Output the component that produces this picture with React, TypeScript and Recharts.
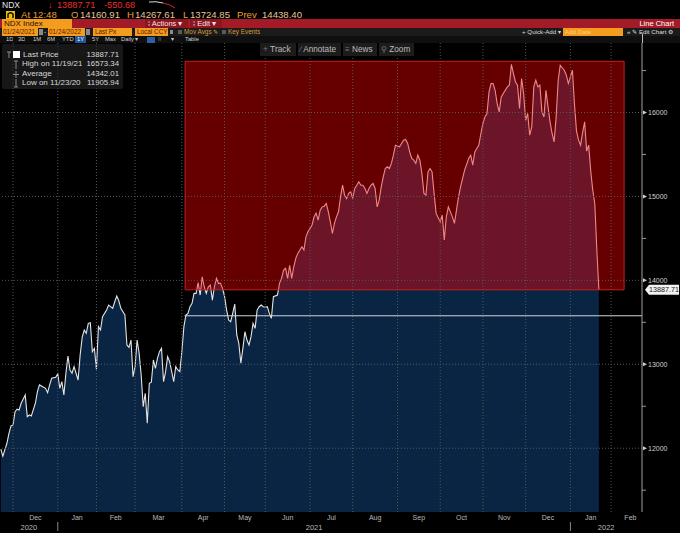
import React from "react";
import {
  AreaChart,
  Area,
  XAxis,
  YAxis,
  ReferenceArea,
  ReferenceLine,
} from "recharts";

// ---- data (trading-day index, 0 = 1 Dec 2020) ----
const tradingDay = [
  -6, -5, -3, -2, -1, 0, 1, 2, 3, 4, 6, 7, 8, 9, 11, 12, 13, 15, 16, 17, 18, 19, 21, 22, 23, 24, 25, 26, 27, 28,
  29, 30, 31, 32, 33, 34, 35, 36, 37, 38, 39, 40, 41, 42, 43, 44, 46, 47, 49, 50, 51, 52, 53, 55, 56, 57, 58, 59,
  60, 61, 62, 63, 64, 65, 66, 67, 68, 69, 70, 71, 72, 73, 74, 75, 76, 77, 78, 79, 80, 81, 82, 83, 84, 85, 86, 87,
  88, 89, 90, 91, 92, 93, 94, 95, 96, 97, 98, 99, 100, 101, 102, 103, 104, 105, 106, 107, 108, 109, 110, 111, 112,
  113, 114, 115, 116, 117, 118, 119, 120, 121, 122, 123, 124, 125, 126, 127, 128, 130, 131, 132, 133, 134, 135,
  136, 137, 138, 139, 140, 141, 142, 143, 144, 145, 146, 147, 148, 149, 150, 151, 152, 153, 154, 155, 156, 157,
  158, 159, 160, 161, 162, 163, 164, 165, 166, 167, 168, 169, 170, 171, 172, 173, 174, 175, 176, 177, 178, 179,
  180, 181, 182, 183, 184, 185, 186, 187, 188, 190, 191, 192, 193, 194, 195, 196, 197, 198, 199, 200, 201, 202,
  203, 204, 205, 206, 207, 208, 210, 211, 212, 213, 214, 216, 217, 218, 219, 220, 221, 222, 224, 225, 226, 227,
  228, 229, 230, 231, 232, 233, 234, 235, 236, 237, 238, 239, 240, 241, 243, 244, 245, 246, 247, 248, 249, 250,
  251, 252, 253, 254, 255, 256, 257, 258, 259, 260, 261, 262, 263, 264, 265, 266, 267, 268, 269, 271, 272, 273,
  274, 275, 276, 277, 278, 279, 280, 281, 282, 283, 284, 285, 286, 287, 288,
];
const ndxPrice = [
  11990, 11906, 12059, 12178, 12265, 12277, 12436, 12465, 12456, 12536, 12634, 12376, 12396, 12384, 12536, 12674,
  12754, 12726, 12714, 12662, 12754, 12833, 12845, 12885, 12714, 12793, 12634, 12893, 13099, 12932, 12893, 12972,
  12893, 12813, 13111, 13320, 13408, 13369, 13488, 13495, 13150, 13190, 12940, 13448, 13408, 13567, 13646, 13706,
  13666, 13745, 13813, 13757, 13666, 13587, 13230, 13202, 13289, 12852, 12972, 13289, 13131, 12873, 12495, 12655,
  12298, 12774, 12786, 13051, 12952, 13071, 13150, 13190, 12793, 12912, 13091, 13031, 12912, 12793, 12972, 12932,
  12912, 13150, 13448, 13587, 13607, 13686, 13726, 13845, 13845, 13972, 13825, 14043, 13924, 13845, 13924, 13944,
  13765, 13924, 14024, 13964, 13964, 13905, 13805, 13646, 13527, 13507, 13607, 13718, 13349, 13250, 13012, 13190,
  13388, 13289, 13230, 13329, 13488, 13428, 13646, 13686, 13706, 13686, 13680, 13686, 13607, 13547, 13805, 13825,
  13964, 14024, 14123, 14143, 14024, 14180, 14024, 14162, 14262, 14321, 14361, 14400, 14361, 14519, 14579, 14619,
  14660, 14757, 14800, 14718, 14837, 14876, 14884, 14916, 14817, 14698, 14559, 14678, 14757, 14817, 14995, 15134,
  15015, 14976, 15036, 15055, 14976, 15095, 15134, 15174, 15134, 15134, 15095, 15036, 15095, 15134, 15154, 15095,
  14876, 14956, 15114, 15233, 15333, 15353, 15333, 15393, 15492, 15611, 15591, 15631, 15670, 15678, 15631, 15531,
  15452, 15432, 15393, 15492, 15432, 15274, 15036, 15015, 15293, 15333, 15293, 15036, 14798, 14698, 14777, 14480,
  14757, 14876, 14757, 14678, 14837, 14995, 15114, 15214, 15313, 15452, 15492, 15373, 15531, 15571, 15611, 15750,
  15869, 15948, 15988, 16245, 16345, 16345, 16265, 16107, 16007, 16186, 16226, 16305, 16325, 16573.34, 16464, 16364,
  16325, 16048, 16405, 16226, 15908, 15988, 15730, 15829, 16305, 16385, 16305, 16325, 16007, 15948, 16265, 16067,
  15888, 15750, 15650, 15948, 16385, 16563, 16504, 16444, 16345, 16424, 16504, 16100, 15780, 15670, 15611, 15760,
  15888, 15540, 15611, 15300, 15075, 14910, 14361, 13887.71,
];

// month starts (trading-day index) and labels
const monthStarts = [0, 22, 41, 60, 83, 104, 124, 146, 167, 189, 210, 231, 252, 274, 294, 313];
const monthLabels = ["Dec", "Jan", "Feb", "Mar", "Apr", "May", "Jun", "Jul", "Aug", "Sep", "Oct", "Nov", "Dec", "Jan", "Feb"];
const yearStarts = [22, 274];
const yearLabels = ["2020", "2021", "2022"];

const priceTicks = [11500, 12000, 12500, 13000, 13500, 14000, 14500, 15000, 15500, 16000, 16500];
const gridPrices = [12000, 13000, 14000, 15000, 16000];

const xDomain: [number, number] = [-6.4, 309.2];
const yDomain: [number, number] = [11240, 16840];

const lastPrice = 13887.71;
const netChange = "-550.68";
const quoteTime = "12:48";
const openPx = "14160.91";
const highPx = "14267.61";
const lowPx = "13724.85";
const prevPx = "14438.40";
const statLabels = ["Last Price", "High on 11/19/21", "Average", "Low on 11/23/20"];
const statValues = ["13887.71", "16573.34", "14342.01", "11905.94"];

const zoneStart = 84.6;
const zoneEnd = 300.4;
const zoneTop = 16610;
const baseLevel = 13578;
const baseStart = 84.3;

const data = tradingDay.map((t, i) => ({ t, price: ndxPrice[i] }));
const monthTicks = monthStarts.filter((m) => m >= xDomain[0] && m <= xDomain[1]);
const monthMids = monthStarts.slice(0, -1).map((s, i) => (s + monthStarts[i + 1]) / 2);
const yearBounds = [xDomain[0], ...yearStarts, xDomain[1]];
const yearMids = yearLabels.map((_, i) => (yearBounds[i] + yearBounds[i + 1]) / 2);
const yearTicks = [...yearMids, ...yearStarts].sort((a, b) => a - b);

const FONT = "'Liberation Sans', Arial, Helvetica, sans-serif";
const ORANGE = "#f39c1e";
const AMBER = "#e9a033";
const NUM = "#e6c592";
const RED = "#ee2b2b";
const GRID = "#575757";

const MonthTick = (props: any) => {
  const { x, y, payload } = props;
  const i = monthMids.indexOf(payload.value);
  return (
    <text x={x} y={y + 7.5} textAnchor="middle" fill="#b9b9b9" fontSize={7} fontFamily={FONT}>
      {monthLabels[i]}
    </text>
  );
};

const YearTick = (props: any) => {
  const { x, y, payload } = props;
  const v = payload.value;
  if (yearStarts.includes(v)) {
    return <line x1={x} y1={y} x2={x} y2={y + 9} stroke="#8a8a8a" strokeWidth={1} />;
  }
  const i = yearMids.indexOf(v);
  return (
    <text x={x} y={y + 7.5} textAnchor="middle" fill="#b9b9b9" fontSize={7.5} fontFamily={FONT}>
      {yearLabels[i]}
    </text>
  );
};

const PriceTick = (props: any) => {
  const { x, y, payload } = props;
  const v = payload.value;
  if (v % 1000 !== 0) {
    return <line x1={x} y1={y} x2={x + 4} y2={y} stroke="#9a9a9a" strokeWidth={1} />;
  }
  return (
    <g>
      <path d={`M${x + 1},${y - 2} L${x + 5},${y} L${x + 1},${y + 2} Z`} fill="#cfcfcf" />
      <text x={x + 6} y={y} dy="0.35em" fill="#cfcfcf" fontSize={7} fontFamily={FONT}>
        {v}
      </text>
    </g>
  );
};

const LastPriceTag = (props: any) => {
  const vb = props.viewBox || {};
  const x = (vb.x ?? 0) + (vb.width ?? 0) + 3;
  const y = vb.y ?? 0;
  return (
    <g>
      <path d={`M${x},${y} L${x + 4},${y - 5} L${x + 34},${y - 5} L${x + 34},${y + 5} L${x + 4},${y + 5} Z`} fill="#f2f2f2" />
      <text x={x + 19} y={y} dy="0.35em" textAnchor="middle" fill="#111" fontSize={7.2} fontFamily={FONT}>
        {lastPrice.toFixed(2)}
      </text>
    </g>
  );
};

function Txt(p: any) {
  const { x, y, h, size, color, bg, w, align, pad, children, radius } = p;
  return (
    <div
      style={{
        position: "absolute",
        left: x,
        top: y,
        width: w,
        height: h,
        lineHeight: `${h}px`,
        fontSize: size,
        color,
        background: bg,
        textAlign: align ?? "left",
        whiteSpace: "nowrap",
        overflow: "hidden",
        paddingLeft: pad ?? 0,
        boxSizing: "border-box",
        borderRadius: radius ?? 0,
      }}
    >
      {children}
    </div>
  );
}

function Header() {
  return (
    <>
      {/* row 1 */}
      <Txt x={2} y={0} h={10} size={8.5} color="#e8e8e8">NDX</Txt>
      <Txt x={48} y={0} h={10} size={9} color={RED}>↓</Txt>
      <Txt x={57} y={0} h={10} size={9.2} color={RED}>{lastPrice.toFixed(2)}</Txt>
      <Txt x={104} y={0} h={10} size={9.2} color={RED}>{netChange}</Txt>
      <svg style={{ position: "absolute", left: 148, top: 0 }} width={30} height={10}>
        <path d="M1,2 Q8,1 15,3" stroke="#dddddd" fill="none" strokeWidth={1} />
        <path d="M15,3 Q22,4 27,8" stroke="#d22" fill="none" strokeWidth={1} />
      </svg>

      {/* row 2 */}
      <svg style={{ position: "absolute", left: 6, top: 11 }} width={9} height={8}>
        <rect x={0} y={0} width={9} height={8} fill="#f0c000" />
        <path d="M2,7 L2,3 Q4.5,0.5 7,3 L7,7" stroke="#000" fill="none" strokeWidth={1.4} />
      </svg>
      <Txt x={21} y={9} h={11} size={9.6} color={AMBER}>At {quoteTime}</Txt>
      <Txt x={71} y={9} h={11} size={9.6} color={AMBER}>O</Txt>
      <Txt x={80} y={9} h={11} size={9.6} color={NUM}>{openPx}</Txt>
      <Txt x={127} y={9} h={11} size={9.6} color={AMBER}>H</Txt>
      <Txt x={135} y={9} h={11} size={9.6} color={NUM}>{highPx}</Txt>
      <Txt x={183} y={9} h={11} size={9.6} color={AMBER}>L</Txt>
      <Txt x={190} y={9} h={11} size={9.6} color={NUM}>{lowPx}</Txt>
      <Txt x={237} y={9} h={11} size={9.6} color={AMBER}>Prev</Txt>
      <Txt x={262} y={9} h={11} size={9.6} color={NUM}>{prevPx}</Txt>

      {/* row 3 */}
      <div style={{ position: "absolute", left: 0, top: 19, width: 680, height: 9, background: "#a31b27" }} />
      <Txt x={2} y={19} w={70} h={9} size={8} color="#2a1200" bg={ORANGE} pad={2}>NDX Index</Txt>
      <Txt x={145} y={19} w={43} h={9} size={7.5} color="#f3e3e3" bg="#8d1520" pad={3}>⁞ Actions ▾</Txt>
      <Txt x={190} y={19} w={32} h={9} size={7.5} color="#f3e3e3" bg="#8d1520" pad={3}>⁞ Edit ▾</Txt>
      <Txt x={590} y={19} w={84} h={9} size={7.5} color="#ffffff" align="right">Line Chart</Txt>

      {/* row 4 */}
      <div style={{ position: "absolute", left: 0, top: 28, width: 680, height: 8, background: "#1b1b1b" }} />
      <Txt x={2} y={28} w={36} h={8} size={6.4} color="#5a1800" bg={ORANGE} pad={1}>01/24/2021</Txt>
      <div style={{ position: "absolute", left: 39, top: 29, width: 4, height: 6, background: "#8a8a8a" }} />
      <Txt x={44} y={28} h={8} size={6.4} color="#cccccc">-</Txt>
      <Txt x={48} y={28} w={37} h={8} size={6.4} color="#5a1800" bg={ORANGE} pad={1}>01/24/2022</Txt>
      <div style={{ position: "absolute", left: 86, top: 29, width: 4, height: 6, background: "#8a8a8a" }} />
      <Txt x={93} y={28} w={39} h={8} size={6.4} color="#5a1800" bg={ORANGE} pad={2}>Last Px</Txt>
      <Txt x={135} y={28} w={33} h={8} size={6.4} color="#5a1800" bg={ORANGE} pad={2}>Local CCY</Txt>
      <div style={{ position: "absolute", left: 170, top: 30, width: 3, height: 4, background: "#8a8a8a" }} />
      <div style={{ position: "absolute", left: 178, top: 30, width: 4, height: 4, background: "#5a5a5a" }} />
      <Txt x={184} y={28} h={8} size={6.4} color="#d99a3c">Mov Avgs ✎</Txt>
      <div style={{ position: "absolute", left: 222, top: 30, width: 4, height: 4, background: "#5a5a5a" }} />
      <Txt x={228} y={28} h={8} size={6.4} color="#d99a3c">Key Events</Txt>
      <Txt x={522} y={28} h={8} size={6.2} color="#dddddd">+ Quick-Add ▾</Txt>
      <Txt x={563} y={28} w={60} h={8} size={6.2} color="#ffd27a" bg={ORANGE} pad={2}>Add Data</Txt>
      <Txt x={627} y={28} h={8} size={6.2} color="#dddddd">« ✎ Edit Chart ⚙</Txt>

      {/* row 5 */}
      <div style={{ position: "absolute", left: 0, top: 36, width: 680, height: 7, background: "#0f0f0f" }} />
      <Txt x={6} y={36} h={7} size={5.8} color="#d0d0d0">1D</Txt>
      <Txt x={18} y={36} h={7} size={5.8} color="#d0d0d0">3D</Txt>
      <Txt x={33} y={36} h={7} size={5.8} color="#d0d0d0">1M</Txt>
      <Txt x={47} y={36} h={7} size={5.8} color="#d0d0d0">6M</Txt>
      <Txt x={62} y={36} h={7} size={5.8} color="#d0d0d0">YTD</Txt>
      <Txt x={75} y={36} w={11} h={7} size={5.8} color="#ffffff" bg="#24579a" align="center">1Y</Txt>
      <Txt x={92} y={36} h={7} size={5.8} color="#d0d0d0">5Y</Txt>
      <Txt x={105} y={36} h={7} size={5.8} color="#d0d0d0">Max</Txt>
      <Txt x={121} y={36} h={7} size={5.8} color="#d0d0d0">Daily ▾</Txt>
      <div style={{ position: "absolute", left: 147, top: 37, width: 8, height: 6, background: "#2b5fa8" }} />
      <Txt x={158} y={36} h={7} size={5.8} color="#d0d0d0">⁞⁞</Txt>
      <Txt x={171} y={36} h={7} size={5.8} color="#d0d0d0">▾</Txt>
      <Txt x={185} y={36} h={7} size={5.8} color="#d0d0d0">Table</Txt>
      <div style={{ position: "absolute", left: 642, top: 34, width: 1, height: 9, background: "#bdbdbd" }} />

      {/* stats box */}
      <div style={{ position: "absolute", left: 2, top: 44, width: 121, height: 45, background: "rgba(38,38,38,0.6)", borderRadius: 2 }} />
      <div style={{ position: "absolute", left: 13, top: 51, width: 7, height: 7, background: "#ffffff" }} />
      <svg style={{ position: "absolute", left: 6, top: 50 }} width={18} height={38}>
        <path d="M3,2 L3,8 M1,2 L5,2" stroke="#8a8a8a" strokeWidth={1} fill="none" />
        <path d="M10,11 L10,19 M8,11 L12,11" stroke="#8a8a8a" strokeWidth={1} fill="none" />
        <path d="M10,21 L10,28 M7,24.5 L13,24.5" stroke="#8a8a8a" strokeWidth={1} fill="none" />
        <path d="M10,29 L10,37 M8,37 L12,37" stroke="#8a8a8a" strokeWidth={1} fill="none" />
      </svg>
      {statLabels.map((lab, i) => (
        <React.Fragment key={lab}>
          <Txt x={i === 0 ? 23 : 22} y={50 + i * 9.4} h={10} size={8} color="#d8d8d8">{lab}</Txt>
          <Txt x={70} y={50 + i * 9.4} w={49} h={10} size={7.8} color="#d8d8d8" align="right">{statValues[i]}</Txt>
        </React.Fragment>
      ))}

      {/* chart toolbar */}
      <Txt x={260} y={43} w={36} h={13} size={8.4} color="#bdbdbd" bg="#1c1c1c" pad={3}>
        <span style={{ color: "#777" }}>+</span> Track
      </Txt>
      <Txt x={298} y={43} w={43} h={13} size={8.2} color="#bdbdbd" bg="#1c1c1c" pad={2}>
        <span style={{ color: "#777" }}>⁄</span> Annotate
      </Txt>
      <Txt x={343} y={43} w={34} h={13} size={8.2} color="#bdbdbd" bg="#1c1c1c" pad={2}>
        <span style={{ color: "#777" }}>≡</span> News
      </Txt>
      <Txt x={379} y={43} w={35} h={13} size={8.2} color="#bdbdbd" bg="#1c1c1c" pad={2}>
        <span style={{ color: "#777" }}>⚲</span> Zoom
      </Txt>
    </>
  );
}

export default function App() {
  return (
    <div
      style={{
        position: "absolute",
        left: 0,
        top: 0,
        width: 680,
        height: 533,
        background: "#000",
        overflow: "hidden",
        fontFamily: FONT,
      }}
    >
      <div style={{ position: "absolute", left: 0, top: 0 }}>
        <AreaChart width={680} height={533} data={data} margin={{ top: 42, right: 0, bottom: 0, left: 0 }}>
          <XAxis
            xAxisId="m"
            dataKey="t"
            type="number"
            domain={xDomain}
            allowDataOverflow
            ticks={monthTicks}
            interval={0}
            height={1}
            tick={false}
            tickLine={{ stroke: "#8a8a8a" }}
            tickSize={3}
            axisLine={false}
          />
          <XAxis
            xAxisId="l"
            dataKey="t"
            type="number"
            domain={xDomain}
            allowDataOverflow
            ticks={monthMids}
            interval={0}
            height={9}
            tickLine={false}
            tickSize={0}
            tickMargin={0}
            axisLine={false}
            tick={<MonthTick />}
          />
          <XAxis
            xAxisId="y"
            dataKey="t"
            type="number"
            domain={xDomain}
            allowDataOverflow
            ticks={yearTicks}
            interval={0}
            height={11}
            tickLine={false}
            tickSize={0}
            tickMargin={0}
            axisLine={false}
            tick={<YearTick />}
          />
          <YAxis
            orientation="right"
            type="number"
            domain={yDomain}
            allowDataOverflow
            ticks={priceTicks}
            interval={0}
            width={38}
            tickLine={false}
            tickSize={0}
            tickMargin={0}
            axisLine={{ stroke: "#a0a0a0" }}
            tick={<PriceTick />}
          />
          <Area
            xAxisId="m"
            type="linear"
            dataKey="price"
            stroke="#e4e4e4"
            strokeWidth={1.1}
            fill="#0a2444"
            fillOpacity={1}
            dot={false}
            activeDot={false}
            isAnimationActive={false}
          />
          {monthTicks.map((m) => (
            <ReferenceLine
              key={`gx${m}`}
              xAxisId="m"
              x={m}
              stroke={GRID}
              strokeDasharray="1 2"
              strokeWidth={1}
            />
          ))}
          {gridPrices.map((p) => (
            <ReferenceLine
              key={`gy${p}`}
              xAxisId="m"
              y={p}
              stroke={GRID}
              strokeDasharray="1 2"
              strokeWidth={1}
            />
          ))}
          <ReferenceLine
            xAxisId="m"
            segment={[
              { x: baseStart, y: baseLevel },
              { x: xDomain[1], y: baseLevel },
            ]}
            stroke="#d4d4d4"
            strokeWidth={1}
          />
          <ReferenceArea
            xAxisId="m"
            x1={zoneStart}
            x2={zoneEnd}
            y1={lastPrice}
            y2={zoneTop}
            fill="#ff0000"
            fillOpacity={0.4}
            stroke="#cc1d1d"
            strokeWidth={1}
            zIndex={300}
          />
          <ReferenceLine xAxisId="m" y={lastPrice} stroke="none" label={<LastPriceTag />} />
        </AreaChart>
      </div>
      <Header />
    </div>
  );
}
